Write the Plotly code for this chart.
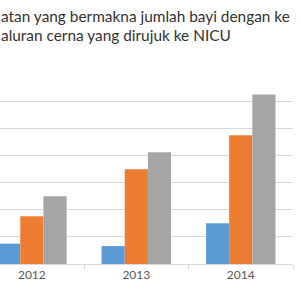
import plotly.graph_objects as go

years = ["2012", "2013", "2014"]
series_a = [0.75, 0.66, 1.50]
series_b = [1.76, 3.49, 4.74]
series_c = [2.50, 4.12, 6.25]
colors = ["#5B9BD5", "#ED7D31", "#A5A5A5"]
title_lines = ["atan yang bermakna jumlah bayi dengan ke", "aluran cerna yang dirujuk ke NICU"]

xpos = list(range(len(years)))
fig = go.Figure()
for vals, c in zip([series_a, series_b, series_c], colors):
    fig.add_trace(go.Bar(x=xpos, y=vals, marker=dict(color=c, line=dict(width=0)), showlegend=False))

fig.update_layout(
    width=300, height=300,
    margin=dict(l=0, r=7, t=74, b=36),
    paper_bgcolor="white", plot_bgcolor="white",
    barmode="group", bargap=0.335, bargroupgap=0,
    font=dict(family="Lato, Carlito, sans-serif", color="#595959"),
    xaxis=dict(range=[-0.305, 2.5], tickmode="array", tickvals=xpos, ticktext=years,
               ticks="", showgrid=False, showline=True, linecolor="#d9d9d9", linewidth=1,
               tickfont=dict(size=12, color="#595959"), zeroline=False,
               minor=dict(tickmode="array", tickvals=[0.5, 1.5, 2.5], ticks="outside",
                          ticklen=4, tickcolor="#d9d9d9", showgrid=False)),
    yaxis=dict(range=[0, 7.001], dtick=1, showgrid=True, gridcolor="#d9d9d9", gridwidth=1,
               showticklabels=False, zeroline=False, showline=False, ticks=""),
)
for i, (line, yy) in enumerate(zip(title_lines, [1.305, 1.205])):
    fig.add_annotation(text=line, xref="paper", yref="paper", x=0, y=yy, xanchor="left",
                       yanchor="middle", showarrow=False, xshift=0, borderpad=0,
                       font=dict(size=15.4, color="#333333", family="Lato, Carlito, sans-serif"))

fig.write_html("out.html")
